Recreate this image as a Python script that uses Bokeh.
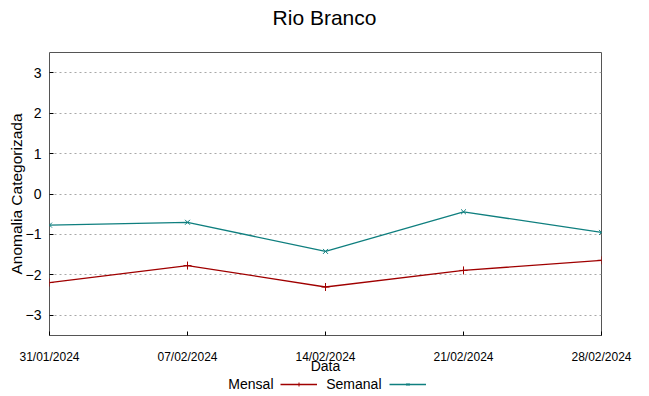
from bokeh.plotting import figure
from bokeh.layouts import column
from bokeh.models import FixedTicker, Range1d, Legend, LegendItem, Label, Div
from bokeh.core.properties import value
from bokeh.embed import file_html
from bokeh.resources import INLINE

# ---- data ----
title_text = "Rio Branco"
dates = ["31/01/2024", "07/02/2024", "14/02/2024", "21/02/2024", "28/02/2024"]
mensal = [-2.19, -1.77, -2.30, -1.89, -1.64]
semanal = [-0.77, -0.70, -1.42, -0.44, -0.95]
y_ticks = [-3, -2, -1, 0, 1, 2, 3]
series_names = ["Mensal", "Semanal"]

x = list(range(len(dates)))

RED = "#a00000"
TEAL = "#0f7f7f"
FRAME = "#555555"
SANS = "Liberation Sans"

# title strip
head = Div(text=title_text, width=649, height=36,
           styles={"font-family": SANS, "font-size": "21px", "color": "black",
                   "text-align": "center", "line-height": "36px",
                   "width": "649px", "margin": "0", "padding": "0"})

p = figure(width=649, height=340, output_backend="svg", toolbar_location=None,
           title=None,
           x_range=Range1d(0, len(dates) - 1), y_range=Range1d(-3.5, 3.5),
           min_border_left=49, min_border_right=48, min_border_top=16,
           min_border_bottom=41)

p.outline_line_color = FRAME
p.outline_line_width = 1

# x axis
xa = p.xaxis[0]
xa.ticker = FixedTicker(ticks=x)
xa.major_label_overrides = {i: d for i, d in enumerate(dates)}
xa.major_label_text_font = SANS
xa.major_label_text_font_size = "12px"
xa.major_label_text_color = "black"
xa.major_label_standoff = 14
xa.major_tick_in = 4
xa.major_tick_out = 0
xa.minor_tick_line_color = None
xa.axis_line_color = None
xa.major_tick_line_color = "black"
xa.axis_label = "Data"
xa.axis_label_text_font = SANS
xa.axis_label_text_font_size = "14px"
xa.axis_label_text_font_style = "normal"
xa.axis_label_text_color = "black"
xa.axis_label_standoff = -9

# y axis
ya = p.yaxis[0]
ya.ticker = FixedTicker(ticks=y_ticks)
ya.major_label_text_font = SANS
ya.major_label_text_font_size = "14px"
ya.major_label_text_color = "black"
ya.major_label_standoff = 8
ya.major_tick_in = 4
ya.major_tick_out = 0
ya.minor_tick_line_color = None
ya.axis_line_color = None
ya.major_tick_line_color = "black"
ya.axis_label = "Anomalia Categorizada"
ya.axis_label_text_font = SANS
ya.axis_label_text_font_size = "15.5px"
ya.axis_label_text_font_style = "normal"
ya.axis_label_text_color = "black"
ya.axis_label_standoff = -2

# grid
p.xgrid.visible = False
p.ygrid.ticker = FixedTicker(ticks=y_ticks)
p.ygrid.grid_line_color = "#a8a8a8"
p.ygrid.grid_line_dash = "2 3"
p.ygrid.grid_line_width = 1

# series
p.line(x, mensal, color=RED, line_width=1.3)
p.scatter(x, mensal, marker="cross", size=8, color=RED, line_width=1)
p.line(x, semanal, color=TEAL, line_width=1.3)
p.scatter(x, semanal, marker="x", size=7, color=TEAL, line_width=1)

# ---- key strip below the chart (gnuplot style: name, then sample) ----
k = figure(width=649, height=20, output_backend="svg", toolbar_location=None,
           title=None, x_axis_type=None, y_axis_type=None, min_border=0,
           x_range=Range1d(0, len(dates) - 1), y_range=Range1d(10, 11))
k.outline_line_color = None
k.grid.visible = False
# same series styles (kept out of view) so the key can show their samples
kl1 = k.line(x, mensal, color=RED, line_width=1.3)
km1 = k.scatter(x, mensal, marker="cross", size=8, color=RED, line_width=1)
kl2 = k.line(x, semanal, color=TEAL, line_width=1.3)
km2 = k.scatter(x, semanal, marker="x", size=7, color=TEAL, line_width=1)
legend = Legend(items=[LegendItem(label=value(" "), renderers=[kl1, km1]),
                       LegendItem(label=value(" "), renderers=[kl2, km2])],
                orientation="horizontal", location=(231, 7),
                glyph_width=37, glyph_height=10, label_width=0, label_height=10,
                label_standoff=0, spacing=72, padding=0, margin=0,
                border_line_alpha=0, background_fill_alpha=0,
                label_text_font_size="1px")
k.add_layout(legend, "center")
for name, xs in zip(series_names, [224, 332]):
    k.add_layout(Label(x=xs, y=13, x_units="screen", y_units="screen", text=name,
                       text_align="right", text_baseline="middle",
                       text_font=SANS, text_font_size="14px", text_color="black"))

open("out.html", "w").write(file_html(column(head, p, k, spacing=0), INLINE))
